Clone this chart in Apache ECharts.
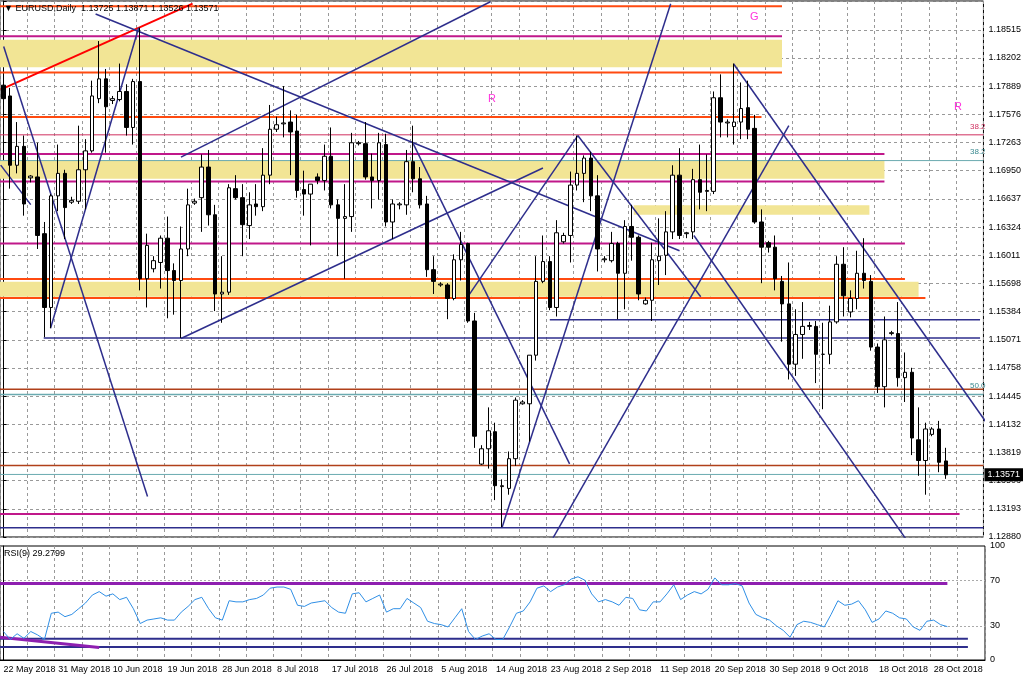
<!DOCTYPE html>
<html>
<head>
<meta charset="UTF-8">
<title>EURUSD Daily</title>
<script src="https://cdn.jsdelivr.net/npm/echarts@6/dist/echarts.min.js"></script>
<style>
  html, body { margin: 0; padding: 0; background: #fff; }
  #chart { width: 1024px; height: 683px; }
</style>
</head>
<body>
<div id="chart"></div>
<script>
// daily bars, 22 May 2018 .. 30 Oct 2018 (broker with Sunday bars)
const opens = [1.1790,1.1778,1.1701,1.1722,1.1687,1.1688,1.1625,1.1543,1.1667,1.1692,1.1660,1.1661,1.1696,1.1717,1.1775,1.1797,1.1773,1.1774,1.1783,1.1743,
  1.1794,1.1575,1.1586,1.1593,1.1620,1.1584,1.1573,1.1608,1.1659,1.1665,1.1699,1.1646,1.1558,1.1560,1.1675,1.1665,1.1634,1.1658,1.1655,1.1690,
  1.1741,1.1747,1.1749,1.1739,1.1674,1.1669,1.1688,1.1684,1.1711,1.1657,1.1642,1.1644,1.1725,1.1725,1.1688,1.1684,1.1724,1.1638,1.1657,1.1657,
  1.1705,1.1686,1.1658,1.1585,1.1568,1.1568,1.1553,1.1596,1.1614,1.1528,1.1369,1.1386,1.1405,1.1344,1.1342,1.1375,1.1436,1.1436,1.1490,1.1572,
  1.1594,1.1543,1.1616,1.1623,1.1679,1.1692,1.1709,1.1667,1.1596,1.1595,1.1614,1.1581,1.1633,1.1621,1.1547,1.1551,1.1595,1.1601,1.1627,1.1690,
  1.1625,1.1627,1.1685,1.1672,1.1672,1.1776,1.1748,1.1744,1.1749,1.1765,1.1742,1.1638,1.1615,1.1610,1.1572,1.1547,1.1480,1.1513,1.1522,1.1522,
  1.1491,1.1491,1.1527,1.1591,1.1538,1.1553,1.1581,1.1572,1.1499,1.1455,1.1514,1.1514,1.1465,1.1471,1.1396,1.1373,1.1402,1.1408,1.13725];
const closes = [1.1775,1.1701,1.1722,1.1658,1.1689,1.1623,1.1543,1.1667,1.1692,1.1654,1.1662,1.1696,1.1717,1.1778,1.1797,1.1766,1.1775,1.1783,1.1743,1.1794,
  1.1575,1.1612,1.1595,1.1620,1.1584,1.1573,1.1608,1.1657,1.1661,1.1699,1.1646,1.1558,1.1560,1.1676,1.1665,1.1635,1.1657,1.1655,1.1690,1.1741,
  1.1746,1.1748,1.1738,1.1673,1.1669,1.1680,1.1684,1.1711,1.1657,1.1642,1.1644,1.1726,1.1726,1.1688,1.1684,1.1726,1.1638,1.1658,1.1658,1.1705,
  1.1686,1.1657,1.1585,1.1572,1.1569,1.1553,1.1596,1.1613,1.1528,1.1400,1.1386,1.1406,1.1345,1.1345,1.1375,1.1440,1.1438,1.1490,1.1572,1.1594,
  1.1543,1.1626,1.1623,1.1679,1.1692,1.1709,1.1667,1.1608,1.1597,1.1614,1.1581,1.1633,1.1621,1.1558,1.1551,1.1596,1.1600,1.1627,1.1690,1.1623,
  1.1626,1.1685,1.1671,1.1673,1.1776,1.1749,1.1749,1.1749,1.1764,1.1741,1.1638,1.1610,1.1610,1.1575,1.1547,1.1480,1.1513,1.1522,1.1523,1.1491,
  1.1491,1.1527,1.1591,1.1556,1.1553,1.1581,1.1573,1.1499,1.1455,1.1507,1.1515,1.1465,1.1471,1.1398,1.1373,1.1408,1.1408,1.1371,1.13571];
const highs = [1.1800,1.1787,1.1749,1.1734,1.1690,1.1726,1.1638,1.1669,1.1724,1.1696,1.1666,1.1745,1.1730,1.1795,1.1839,1.1808,1.1778,1.1814,1.1791,1.1797,
  1.1854,1.1625,1.1600,1.1623,1.1644,1.1592,1.1633,1.1675,1.1664,1.1713,1.1718,1.1657,1.1600,1.1680,1.1690,1.1680,1.1671,1.1680,1.1720,1.1768,
  1.1755,1.1789,1.1762,1.1757,1.1695,1.1680,1.1692,1.1724,1.1743,1.1663,1.1680,1.1737,1.1728,1.1749,1.1714,1.1737,1.1736,1.1663,1.1660,1.1718,
  1.1745,1.1699,1.1667,1.1600,1.1571,1.1570,1.1602,1.1627,1.1615,1.1537,1.1390,1.1432,1.1415,1.1352,1.1383,1.1443,1.1440,1.1490,1.1600,1.1623,
  1.1600,1.1640,1.1626,1.1694,1.1734,1.1712,1.1716,1.1690,1.1600,1.1627,1.1616,1.1640,1.1657,1.1623,1.1554,1.1615,1.1642,1.1650,1.1701,1.1720,
  1.1627,1.1697,1.1724,1.1713,1.1783,1.1802,1.1752,1.1814,1.1793,1.1795,1.1757,1.1652,1.1617,1.1623,1.1578,1.1593,1.1541,1.1549,1.1527,1.1528,
  1.1526,1.1545,1.1600,1.1610,1.1562,1.1606,1.1620,1.1579,1.1503,1.1533,1.1517,1.1549,1.1493,1.1476,1.1432,1.1415,1.1410,1.1417,1.13871];
const lows = [1.1755,1.1675,1.1692,1.1645,1.1682,1.1608,1.1510,1.1520,1.1650,1.1619,1.1658,1.1658,1.1652,1.1715,1.1770,1.1715,1.1769,1.1772,1.1734,1.1724,
  1.1562,1.1543,1.1582,1.1564,1.1531,1.1535,1.1509,1.1600,1.1657,1.1627,1.1634,1.1539,1.1526,1.1557,1.1663,1.1600,1.1619,1.1645,1.1650,1.1680,
  1.1738,1.1732,1.1690,1.1665,1.1645,1.1612,1.1680,1.1673,1.1653,1.1600,1.1575,1.1627,1.1723,1.1685,1.1653,1.1663,1.1633,1.1619,1.1652,1.1646,
  1.1671,1.1653,1.1577,1.1558,1.1566,1.1530,1.1551,1.1573,1.1526,1.1387,1.1368,1.1364,1.1329,1.1299,1.1335,1.1367,1.1435,1.1394,1.1484,1.1570,
  1.1540,1.1533,1.1614,1.1593,1.1673,1.1660,1.1650,1.1583,1.1593,1.1593,1.1530,1.1541,1.1595,1.1551,1.1546,1.1528,1.1568,1.1579,1.1619,1.1619,
  1.1620,1.1619,1.1652,1.1650,1.1669,1.1732,1.1732,1.1724,1.1730,1.1730,1.1636,1.1570,1.1604,1.1562,1.1505,1.1463,1.1467,1.1486,1.1518,1.1459,
  1.1430,1.1480,1.1525,1.1533,1.1532,1.1541,1.1564,1.1495,1.1448,1.1432,1.1512,1.1455,1.1438,1.1379,1.1356,1.1335,1.1400,1.1360,1.13526];
const rsiValues = [25,18,23,19,25,22,18,41,42,38,40,45,50,57,60,56,58,53,55,45,
  32,35,36,37,35,35,42,47,53,55,45,37,35,52,51,51,53,54,57,63,
  64,64,62,48,47,50,51,52,46,42,41,58,59,51,54,57,42,45,45,54,
  50,46,34,32,31,29,37,45,25,18,21,23,18,18,29,41,43,51,63,65,
  60,64,66,71,73,70,58,51,53,51,48,55,54,44,43,51,51,58,66,53,
  57,60,58,62,72,66,66,67,65,50,40,37,35,30,26,20,31,34,33,31,
  29,40,52,48,49,52,44,33,36,43,41,37,36,29,26,34,35,31,29.28];
const priceMin = 1.12880, priceMax = 1.18835, priceStep = 0.0031306;
const rsiLevels = [0, 30, 70, 100];
const lastPrice = 1.13571;

// categories: one per trading day (Sun..Fri), plus a few empty days at the right
const months = ['Jan','Feb','Mar','Apr','May','Jun','Jul','Aug','Sep','Oct','Nov','Dec'];
const dates = [];
let d = new Date(Date.UTC(2018, 4, 22));
while (dates.length < 144) {
  if (d.getUTCDay() !== 6) dates.push(d.getUTCDate() + ' ' + months[d.getUTCMonth()] + ' ' + d.getUTCFullYear());
  d = new Date(d.getTime() + 86400000);
}

const candles = opens.map((o, i) => [o, closes[i], lows[i], highs[i]]);

const ORANGE = '#ff4a10', MAGENTA = '#c0188a', NAVY = '#2e2e8c', TEAL = '#6aaab0', CRIMSON = '#d03060', BROWN = '#b0401a';

// drawn objects: [x1, y1, x2, y2, colour, width] in bar index / price
const segments = [
  [-0.5, 1.18778, 114, 1.18778, ORANGE, 2],
  [-0.5, 1.18443, 114, 1.18443, MAGENTA, 2],
  [-0.5, 1.18042, 114, 1.18042, ORANGE, 2],
  [-0.5, 1.17546, 111, 1.17546, ORANGE, 2],
  [-0.5, 1.17348, 143.5, 1.17348, CRIMSON, 1],
  [-0.5, 1.17134, 129, 1.17134, MAGENTA, 2],
  [-0.5, 1.17062, 143.5, 1.17062, TEAL, 1],
  [-0.5, 1.16829, 129, 1.16829, MAGENTA, 2],
  [-0.5, 1.16142, 132, 1.16142, MAGENTA, 2],
  [-0.5, 1.15746, 132, 1.15746, ORANGE, 2],
  [-0.5, 1.15536, 135, 1.15536, ORANGE, 2],
  [80, 1.15295, 143, 1.15295, NAVY, 1.5],
  [5.9, 1.1509, 143, 1.1509, NAVY, 1.5],
  [-0.5, 1.14521, 143.5, 1.14521, BROWN, 1.5],
  [-0.5, 1.14464, 143.5, 1.14464, TEAL, 1.5],
  [-0.5, 1.13674, 143.5, 1.13674, BROWN, 1.5],
  [-0.5, 1.13575, 143.5, 1.13575, TEAL, 1],
  [-0.5, 1.13135, 140, 1.13135, MAGENTA, 2],
  [-0.5, 1.12983, 143.5, 1.12983, NAVY, 1.5],
  [-0.4, 1.17851, 27.7, 1.18805, '#ff0000', 2],
  [0.04, 1.1833, 21.1, 1.1333, NAVY, 1.5],
  [-0.4, 1.17012, 4, 1.16573, NAVY, 1.5],
  [6.9, 1.1520, 19.8, 1.18538, NAVY, 1.5],
  [13.5, 1.18691, 99.0, 1.1606, NAVY, 1.5],
  [26, 1.171, 71.3, 1.18827, NAVY, 1.5],
  [26, 1.15085, 79.0, 1.1698, NAVY, 1.5],
  [60, 1.17251, 82.9, 1.13693, NAVY, 1.5],
  [73, 1.12983, 97.7, 1.18804, NAVY, 1.5],
  [68, 1.1555, 84.1, 1.1734, NAVY, 1.5],
  [84.1, 1.1734, 102.1, 1.1555, NAVY, 1.5],
  [101.1, 1.1623, 132.4, 1.1283, NAVY, 1.5],
  [106.9, 1.18138, 144.1, 1.14132, NAVY, 1.5],
  [80.1, 1.1282, 115.0, 1.1745, NAVY, 1.5]
];
// yellow zones: [x1, yTop, x2, yBottom]
const zones = [
  [-0.5, 1.18405, 114, 1.18099],
  [-0.5, 1.17062, 129, 1.1686],
  [92.3, 1.16566, 126.8, 1.16459],
  [-0.5, 1.15715, 134, 1.1555]
];
const rsiSegments = [
  [-0.5, 67, 138, 67, '#8e1fb0', 3],
  [-0.5, 18.6, 141, 18.6, NAVY, 2],
  [-0.5, 11.5, 141, 11.5, NAVY, 2],
  [-0.5, 20, 14, 11, '#8e1fb0', 3]
];

const segSeries = (list, xi, yi) => list.map(s => ({
  type: 'line', xAxisIndex: xi, yAxisIndex: yi, silent: true, symbol: 'none', animation: false,
  data: [[s[0], s[1]], [s[2], s[3]]],
  lineStyle: { color: s[4], width: s[5] }, z: 3
}));

const FONT = 'Liberation Sans';
const chart = echarts.init(document.getElementById('chart'));
chart.setOption({
  animation: false,
  backgroundColor: '#fff',
  textStyle: { fontFamily: FONT },
  grid: [
    { left: 0, right: 39, top: 1, height: 536, show: true, borderColor: '#000', borderWidth: 1 },
    { left: 0, right: 39, top: 546, bottom: 23, show: true, borderColor: '#000', borderWidth: 1 }
  ],
  xAxis: [
    { type: 'category', gridIndex: 0, data: dates, axisLabel: { show: false }, axisTick: { show: false }, axisLine: { show: false },
      splitLine: { show: true, interval: 3, lineStyle: { color: '#999', type: [3, 3] } } },
    { type: 'value', gridIndex: 0, min: -0.5, max: 143.5, show: false },
    { type: 'category', gridIndex: 1, data: dates, axisLine: { lineStyle: { color: '#000' } },
      axisTick: { interval: 7, length: 3 },
      axisLabel: { interval: 7, align: 'left', margin: 5, fontSize: 9, color: '#000' },
      splitLine: { show: true, interval: 3, lineStyle: { color: '#999', type: [3, 3] } } },
    { type: 'value', gridIndex: 1, min: -0.5, max: 143.5, show: false }
  ],
  yAxis: [
    { type: 'value', gridIndex: 0, position: 'right', min: priceMin, max: priceMax, interval: priceStep,
      axisLine: { show: true, lineStyle: { color: '#000' } }, axisTick: { show: true, length: 3 },
      axisLabel: { fontSize: 9, color: '#000', margin: 5, formatter: v => v > 1.187 ? '' : v.toFixed(5) },
      splitLine: { show: true, lineStyle: { color: '#999', type: [3, 3] } } },
    { type: 'value', gridIndex: 1, position: 'right', min: 0, max: 100, interval: 10,
      axisLine: { show: true, lineStyle: { color: '#000' } }, axisTick: { show: false },
      axisLabel: { fontSize: 9, color: '#000', margin: 5, formatter: v => rsiLevels.includes(v) ? String(v) : '' },
      splitLine: { show: false } }
  ],
  graphic: [
    { type: 'text', left: 4, top: 4, z: 100, style: { text: '▼ EURUSD,Daily  1.13725 1.13871 1.13526 1.13571', fontSize: 9, fill: '#000', fontFamily: FONT } },
    { type: 'text', left: 4, top: 549, style: { text: 'RSI(9) 29.2799', fontSize: 9, fill: '#000', fontFamily: FONT } },
    { type: 'text', left: 488, top: 93, style: { text: 'R', fontSize: 11, fill: '#ff33dd', fontFamily: FONT } },
    { type: 'text', left: 750, top: 11, style: { text: 'G', fontSize: 11, fill: '#ff33dd', fontFamily: FONT } },
    { type: 'text', left: 954, top: 101, style: { text: 'R', fontSize: 11, fill: '#ff33dd', fontFamily: FONT } },
    { type: 'text', left: 970, top: 123, style: { text: '38.2', fontSize: 8, fill: CRIMSON, fontFamily: FONT } },
    { type: 'text', left: 970, top: 148, style: { text: '38.2', fontSize: 8, fill: '#3a8a90', fontFamily: FONT } },
    { type: 'text', left: 970, top: 382, style: { text: '50.0', fontSize: 8, fill: '#3a8a90', fontFamily: FONT } }
  ],
  series: [
    { type: 'line', xAxisIndex: 1, yAxisIndex: 0, data: [], silent: true, z: 1,
      markArea: { silent: true, itemStyle: { color: '#f2e595' },
        data: zones.map(z => [{ coord: [z[0], z[1]] }, { coord: [z[2], z[3]] }]) } },
    ...segSeries(segments, 1, 0),
    { type: 'candlestick', xAxisIndex: 0, yAxisIndex: 0, data: candles, barWidth: 4, z: 5,
      itemStyle: { color: '#fff', color0: '#000', borderColor: '#000', borderColor0: '#000', borderWidth: 1 } },
    // current-price tag on the price scale
    { type: 'line', xAxisIndex: 1, yAxisIndex: 0, silent: true, symbol: 'none', z: 20,
      data: [[142, lastPrice], [143.5, lastPrice]], lineStyle: { color: 'rgba(0,0,0,0)' },
      endLabel: { show: true, distance: 1, formatter: lastPrice.toFixed(5), backgroundColor: '#000', color: '#fff', fontSize: 9, padding: [2, 3] } },
    { type: 'line', xAxisIndex: 2, yAxisIndex: 1, data: rsiValues, symbol: 'none', z: 5,
      lineStyle: { color: '#2f8fe6', width: 1 },
      markLine: { silent: true, symbol: 'none', label: { show: false },
        lineStyle: { color: '#aaa', type: [2, 2], width: 1 }, data: [{ yAxis: 70 }, { yAxis: 30 }] } },
    ...segSeries(rsiSegments, 3, 1)
  ]
});
</script>
</body>
</html>
